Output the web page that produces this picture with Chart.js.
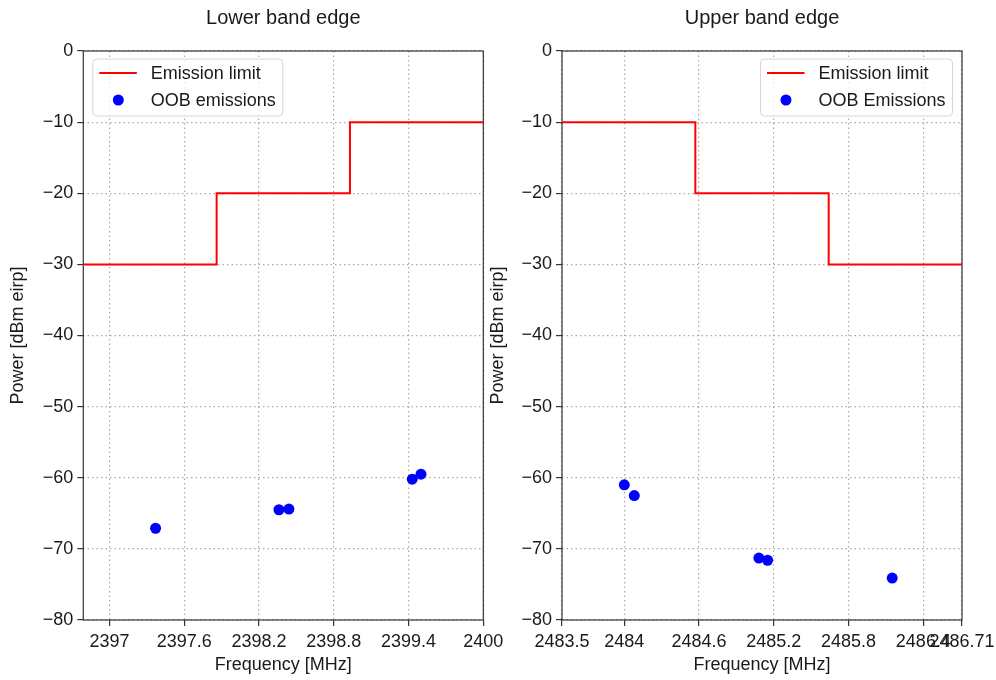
<!DOCTYPE html>
<html>
<head>
<meta charset="utf-8">
<script src="https://cdn.jsdelivr.net/npm/chart.js@4.4.1/dist/chart.umd.min.js"></script>
<style>
  body { margin: 0; background: #fff; width: 996px; height: 680px; overflow: hidden; position: relative; }
  .panel { position: absolute; top: 0; height: 680px; }
  #boxLower { left: 0; width: 520px; }
  #boxUpper { left: 480px; width: 540px; }
</style>
</head>
<body>
<div class="panel" id="boxLower"><canvas id="lowerChart"></canvas></div>
<div class="panel" id="boxUpper"><canvas id="upperChart"></canvas></div>
<script>
// Emission mask steps (MHz, dBm eirp)
const lowerLimitFreq = [2396.79, 2397.86, 2398.93, 2400];
const lowerLimitPower = [-30, -20, -10, -10];
const upperLimitFreq = [2483.5, 2484.57, 2485.64, 2486.71];
const upperLimitPower = [-10, -20, -30, -30];

// Measured out-of-band emissions
const lowerOobFreq = [2397.37, 2398.36, 2398.44, 2399.43, 2399.5];
const lowerOobPower = [-67.1, -64.5, -64.4, -60.2, -59.5];
const upperOobFreq = [2484.0, 2484.08, 2485.08, 2485.15, 2486.15];
const upperOobPower = [-61.0, -62.5, -71.3, -71.6, -74.1];

// Axis ticks
const lowerFreqTicks = [2397, 2397.6, 2398.2, 2398.8, 2399.4, 2400];
const upperFreqTicks = [2483.5, 2484, 2484.6, 2485.2, 2485.8, 2486.4, 2486.71];
const powerMin = -80;
const powerMax = 0;
const powerStep = 10;

Chart.defaults.font.family = "'Liberation Sans', Arial, sans-serif";
Chart.defaults.font.size = 18;
Chart.defaults.color = "#1a1a1a";

function toPoints(xs, ys) {
  return xs.map((x, i) => ({ x: x, y: ys[i] }));
}

// frame around the plot area (all four sides)
const framePlugin = {
  id: "frame",
  beforeDatasetsDraw(chart) {
    const a = chart.chartArea;
    const ctx = chart.ctx;
    ctx.save();
    ctx.strokeStyle = "#333";
    ctx.lineWidth = 1.2;
    ctx.setLineDash([]);
    ctx.strokeRect(a.left, a.top, a.right - a.left, a.bottom - a.top);
    ctx.restore();
  },
};

// legend box drawn inside the plot area
const insideLegend = {
  id: "insideLegend",
  afterDatasetsDraw(chart, args, opts) {
    const ctx = chart.ctx;
    const a = chart.chartArea;
    const sets = chart.data.datasets;
    ctx.save();
    ctx.font = "18px 'Liberation Sans', Arial, sans-serif";
    let textW = 0;
    sets.forEach((d) => { textW = Math.max(textW, ctx.measureText(d.label).width); });
    const w = 58 + textW + 7;
    const h = 57;
    const x = opts.side === "right" ? a.right - 9.5 - w : a.left + 9.5;
    const y = a.top + 8;

    ctx.beginPath();
    ctx.roundRect(x, y, w, h, 4);
    ctx.fillStyle = "rgba(255,255,255,0.8)";
    ctx.fill();
    ctx.strokeStyle = "#d6d6d6";
    ctx.lineWidth = 1;
    ctx.stroke();

    sets.forEach((d, i) => {
      const cy = y + 14 + i * 27;
      if (d.showLine) {
        ctx.strokeStyle = d.borderColor;
        ctx.lineWidth = 2;
        ctx.beginPath();
        ctx.moveTo(x + 6.5, cy);
        ctx.lineTo(x + 44, cy);
        ctx.stroke();
      } else {
        ctx.fillStyle = d.backgroundColor;
        ctx.beginPath();
        ctx.arc(x + 25.5, cy, 5.5, 0, Math.PI * 2);
        ctx.fill();
      }
      ctx.fillStyle = "#1a1a1a";
      ctx.textBaseline = "middle";
      ctx.fillText(d.label, x + 58, cy + 1);
    });
    ctx.restore();
  },
};

function makePanel(canvasId, title, limitF, limitP, oobF, oobP, oobLabel, freqTicks, yWidth, padRight, legendSide) {
  const ctx = document.getElementById(canvasId).getContext("2d");
  return new Chart(ctx, {
    type: "scatter",
    data: {
      datasets: [
        {
          label: "Emission limit",
          data: toPoints(limitF, limitP),
          showLine: true,
          stepped: true,
          borderColor: "#ff0000",
          borderWidth: 2,
          pointRadius: 0,
          fill: false,
        },
        {
          label: oobLabel,
          data: toPoints(oobF, oobP),
          showLine: false,
          backgroundColor: "#0000ff",
          borderWidth: 0,
          pointRadius: 5.5,
        },
      ],
    },
    options: {
      responsive: true,
      maintainAspectRatio: false,
      animation: false,
      devicePixelRatio: 1,
      layout: { padding: { left: 0, right: padRight, top: 0, bottom: 0 } },
      plugins: {
        legend: { display: false },
        tooltip: { enabled: false },
        title: {
          display: true,
          text: title,
          fullSize: false,
          font: { size: 20, weight: "normal" },
          color: "#1a1a1a",
          padding: { top: 6, bottom: 21 },
        },
        insideLegend: { side: legendSide },
      },
      scales: {
        x: {
          type: "linear",
          min: limitF[0],
          max: limitF[limitF.length - 1],
          afterBuildTicks: (scale) => {
            scale.ticks = freqTicks.map((v) => ({ value: v }));
          },
          afterFit: (scale) => { scale.height = 60; },
          ticks: {
            autoSkip: false,
            maxRotation: 0,
            padding: 5,
            color: "#1a1a1a",
            callback: (v) => String(v),
          },
          grid: {
            color: "#aaaaaa",
            lineWidth: 1.2,
            tickColor: "#333",
            tickLength: 6,
            tickWidth: 1.2,
            tickBorderDash: [],
          },
          border: { display: false, dash: [1.5, 3] },
          title: {
            display: true,
            text: "Frequency [MHz]",
            color: "#1a1a1a",
            font: { size: 18 },
            padding: { top: 0, bottom: 4 },
          },
        },
        y: {
          min: powerMin,
          max: powerMax,
          afterFit: (scale) => { scale.width = yWidth; },
          ticks: {
            stepSize: powerStep,
            padding: 4,
            color: "#1a1a1a",
            callback: (v) => String(v).replace("-", "\u2212"),
          },
          grid: {
            color: "#aaaaaa",
            lineWidth: 1.2,
            tickColor: "#333",
            tickLength: 6,
            tickWidth: 1.2,
            tickBorderDash: [],
          },
          border: { display: false, dash: [1.5, 3] },
          title: {
            display: true,
            text: "Power [dBm eirp]",
            color: "#1a1a1a",
            font: { size: 18 },
            padding: { top: 7, bottom: 0 },
          },
        },
      },
    },
    plugins: [framePlugin, insideLegend],
  });
}

makePanel("lowerChart", "Lower band edge", lowerLimitFreq, lowerLimitPower,
  lowerOobFreq, lowerOobPower, "OOB emissions", lowerFreqTicks, 83.3, 36.7, "left");
makePanel("upperChart", "Upper band edge", upperLimitFreq, upperLimitPower,
  upperOobFreq, upperOobPower, "OOB Emissions", upperFreqTicks, 82, 58, "right");
</script>
</body>
</html>
